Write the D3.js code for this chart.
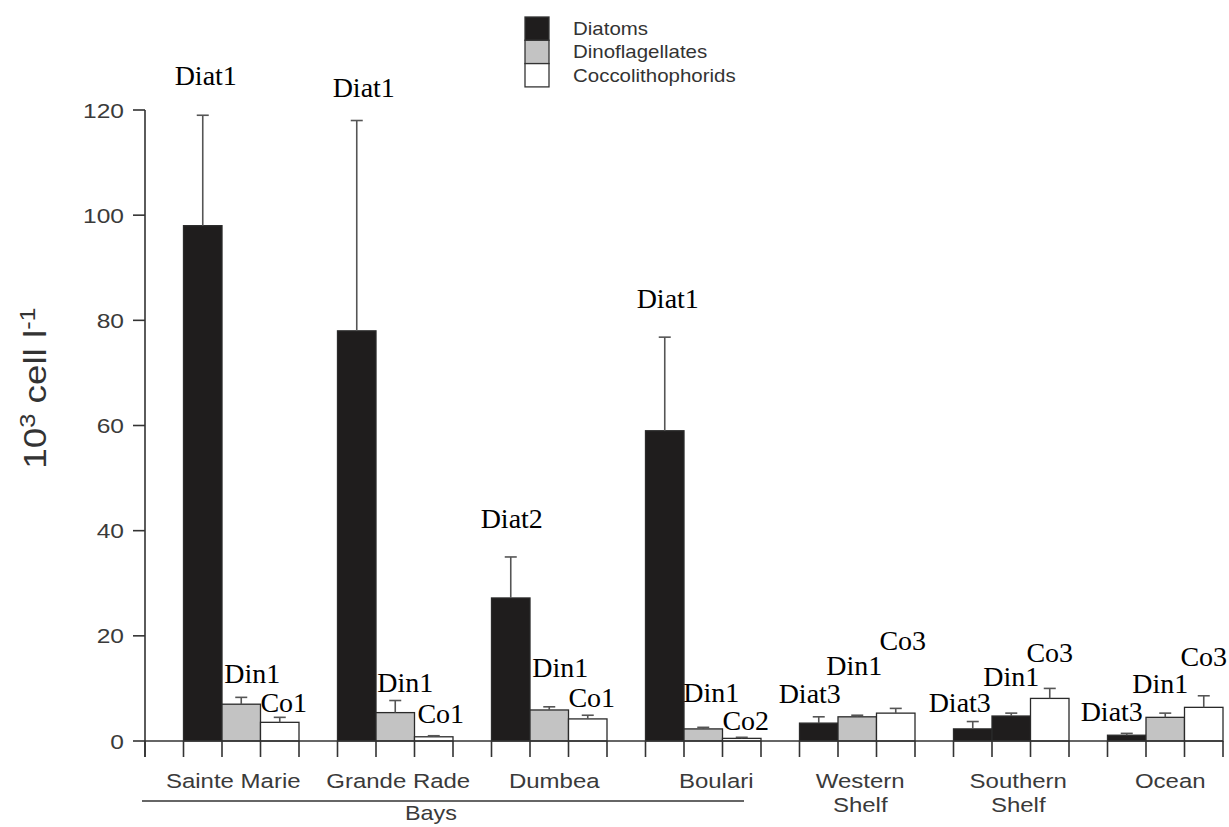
<!DOCTYPE html>
<html><head><meta charset="utf-8">
<script src="https://cdn.jsdelivr.net/npm/d3@7/dist/d3.min.js"></script>
<style>body{margin:0;background:#fff}svg{display:block}</style>
</head><body>
<script>
// ---- data ----
const sites = ["Sainte Marie","Grande Rade","Dumbea","Boulari","Western Shelf","Southern Shelf","Ocean"];
const siteLabelLines = [["Sainte Marie"],["Grande Rade"],["Dumbea"],["Boulari"],["Western","Shelf"],["Southern","Shelf"],["Ocean"]];
const series = ["Diatoms","Dinoflagellates","Coccolithophorids"];
const diatoms    = [98, 78, 27.2, 59, 3.4, 2.3, 1.1];
const diatomsErr = [119, 118, 35, 76.8, 4.6, 3.7, 1.45];
const dinos      = [7.0, 5.4, 5.9, 2.3, 4.6, 4.75, 4.5];
const dinosErr   = [8.3, 7.7, 6.5, 2.6, 4.9, 5.3, 5.3];
const coccos     = [3.55, 0.8, 4.2, 0.5, 5.3, 8.1, 6.4];
const coccosErr  = [4.5, 1.0, 4.9, 0.7, 6.2, 10.0, 8.6];
const diatLabels  = ["Diat1","Diat1","Diat2","Diat1","Diat3","Diat3","Diat3"];
const dinoLabels  = ["Din1","Din1","Din1","Din1","Din1","Din1","Din1"];
const coccoLabels = ["Co1","Co1","Co1","Co2","Co3","Co3","Co3"];
const diatLabelLevel  = [124.7, 122.4, 40.5, 82.3, 7.2, 5.6, 3.8];
const dinoLabelLevel  = [11.0, 9.4, 12.2, 7.5, 12.5, 10.5, 9.1];
const coccoLabelLevel = [5.5, 3.4, 6.5, 2.1, 17.3, 15.1, 14.3];
const yTicks = [0, 20, 40, 60, 80, 100, 120];
const groupLabel = "Bays";
const groupSites = ["Sainte Marie","Grande Rade","Dumbea","Boulari"];

// ---- style / layout ----
const W = 1229, H = 827;
const fills = {Diatoms:"#1f1d1d", Dinoflagellates:"#c3c3c3", Coccolithophorids:"#ffffff"};
const darkDinoSite = "Southern Shelf";
const labelDx = [[3,11,4],[7,10,7],[1,11,4],[3,8,4],[-9,-3,7],[-13,0,0],[-15,-5,0]];
const catDx = [-8, 3, 5, 13, 3, 7, 5];
const sansStretch = 1.17;

const svg = d3.select("body").append("svg").attr("width", W).attr("height", H);

const x0 = d3.scaleBand().domain(sites).range([145, 1223]).padding(0);
const x1 = d3.scaleBand().domain(["gap", ...series]).range([0, x0.bandwidth()]).padding(0);
const y = d3.scaleLinear().domain([0, 120]).range([741, 110]);

const values = [diatoms, dinos, coccos];
const errs = [diatomsErr, dinosErr, coccosErr];
const labels = [diatLabels, dinoLabels, coccoLabels];
const levels = [diatLabelLevel, dinoLabelLevel, coccoLabelLevel];

const bars = [];
sites.forEach((s, i) => series.forEach((se, j) => {
  bars.push({site: s, i, series: se, j, v: values[j][i], e: errs[j][i], lab: labels[j][i], lev: levels[j][i]});
}));

function sansText(g, x, yy, txt, size, anchor, fill) {
  return g.append("text")
    .attr("transform", `translate(${x},${yy}) scale(${sansStretch},1)`)
    .attr("text-anchor", anchor)
    .attr("font-family", "Liberation Sans, Arial, sans-serif")
    .attr("font-size", size)
    .attr("fill", fill || "#3a3a3a")
    .text(txt);
}

// bars
svg.append("g").selectAll("rect").data(bars).join("rect")
  .attr("x", d => x0(d.site) + x1(d.series))
  .attr("y", d => y(d.v))
  .attr("width", x1.bandwidth())
  .attr("height", d => y(0) - y(d.v))
  .attr("fill", d => (d.series === "Dinoflagellates" && d.site === darkDinoSite) ? fills.Diatoms : fills[d.series])
  .attr("stroke", "#2a2a2a").attr("stroke-width", 1.3);

// error bars
const eg = svg.append("g").attr("stroke", "#555").attr("stroke-width", 1.6);
bars.forEach(d => {
  const cx = x0(d.site) + x1(d.series) + x1.bandwidth() / 2;
  eg.append("line").attr("x1", cx).attr("x2", cx).attr("y1", y(d.v)).attr("y2", y(d.e));
  eg.append("line").attr("x1", cx - 6).attr("x2", cx + 6).attr("y1", y(d.e)).attr("y2", y(d.e));
});

// axes
const ax = svg.append("g").attr("stroke", "#333").attr("stroke-width", 1.6);
ax.append("line").attr("x1", 145).attr("x2", 145).attr("y1", y(120)).attr("y2", y(0) + 16);
ax.append("line").attr("x1", 145).attr("x2", 1223).attr("y1", y(0)).attr("y2", y(0));
yTicks.forEach(t => {
  ax.append("line").attr("x1", 133).attr("x2", 145).attr("y1", y(t)).attr("y2", y(t));
  sansText(svg, 124, y(t) + 7.5, String(t), 21, "end");
});
sites.forEach(s => {
  ["gap", ...series].forEach(k => {
    const xx = x0(s) + x1(k);
    ax.append("line").attr("x1", xx).attr("x2", xx).attr("y1", y(0)).attr("y2", y(0) + 16);
  });
});
ax.append("line").attr("x1", 1223).attr("x2", 1223).attr("y1", y(0)).attr("y2", y(0) + 16);

// category labels
sites.forEach((s, i) => {
  const cx = x0(s) + x1("Diatoms") + x1.bandwidth() * 1.5 + catDx[i];
  const t = sansText(svg, cx, 788, "", 20.5, "middle");
  siteLabelLines[i].forEach((ln, k) => t.append("tspan").attr("x", 0).attr("dy", k === 0 ? 0 : 24).text(ln));
});

// group bracket
const gx1 = x0(groupSites[0]) - 3;
const gx2 = x0(groupSites[groupSites.length - 1]) + x0.bandwidth() - 17;
svg.append("line").attr("x1", gx1).attr("x2", gx2).attr("y1", 801).attr("y2", 801)
  .attr("stroke", "#333").attr("stroke-width", 1.5);
sansText(svg, (gx1 + gx2) / 2 - 12, 820, groupLabel, 20, "middle");

// y axis title
const yt = svg.append("text")
  .attr("transform", `translate(46,388) rotate(-90) scale(1.15,1)`)
  .attr("text-anchor", "middle")
  .attr("font-family", "Liberation Sans, Arial, sans-serif")
  .attr("font-size", 32).attr("fill", "#333");
yt.append("tspan").text("10");
yt.append("tspan").attr("font-size", 22).attr("dy", -11).text("3");
yt.append("tspan").attr("dy", 11).text(" cell l");
yt.append("tspan").attr("font-size", 22).attr("dy", -11).text("-1");

// bar annotations
svg.append("g").selectAll("text").data(bars).join("text")
  .attr("x", d => x0(d.site) + x1(d.series) + x1.bandwidth() / 2 + labelDx[d.i][d.j])
  .attr("y", d => y(d.lev))
  .attr("text-anchor", "middle")
  .attr("font-family", "Liberation Serif, Times New Roman, serif")
  .attr("font-size", 28).attr("fill", "#000")
  .text(d => d.lab);

// legend
const lg = svg.append("g");
series.forEach((s, j) => {
  const top = 17 + j * 23.3;
  lg.append("rect").attr("x", 525).attr("y", top).attr("width", 24).attr("height", 23.3)
    .attr("fill", fills[s]).attr("stroke", "#333").attr("stroke-width", 1.3);
  sansText(lg, 573, top + 18, s, 17.5, "start", "#333");
});
</script>
</body></html>
